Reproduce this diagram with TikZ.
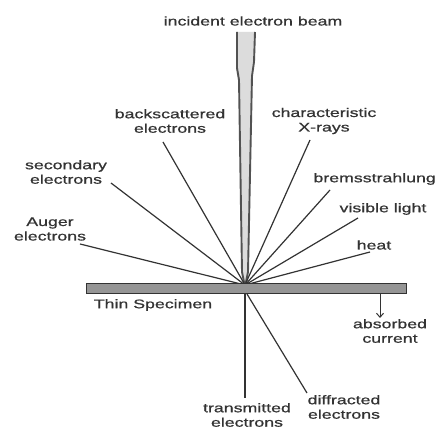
\documentclass[tikz,border=0pt]{standalone}
\usepackage{fontspec}
\setmainfont[FakeStretch=1.42,FakeBold=0.8]{Liberation Sans}
\usetikzlibrary{arrows.meta}
\definecolor{ink}{HTML}{333333}
\definecolor{beamfill}{HTML}{DCDCDC}
\definecolor{barfill}{HTML}{959595}
\begin{document}
\begin{tikzpicture}[x=1pt,y=-1pt,
  lbl/.style={text=ink,font=\fontsize{12.5}{14.5}\selectfont,align=center,inner sep=0pt},
  ray/.style={draw=ink,line width=1.2pt},
  beamedge/.style={draw=ink!85,line width=1.9pt},
]
\useasboundingbox[fill=white] (0,0) rectangle (437,430);

% incident beam
\fill[beamfill] (237,32) -- (237,68) -- (239,80) -- (242,272) -- (245,287) -- (248,272) -- (252,76) -- (254,62) -- (255,32) -- cycle;
\draw[beamedge] (237,32) -- (237,68) -- (239,80) -- (242,272) -- (245,287);
\draw[beamedge] (255,32) -- (254,62) -- (252,76) -- (248,272) -- (245,287);
\node[lbl] (incident) at (253,21) {incident electron beam};

\coordinate (hit) at (245,285);
\coordinate (exit) at (245,294);

% emitted signals
\node[lbl] (bse) at (170,121) {backscattered\\electrons};
\node[lbl] (xray) at (324,121) {characteristic\\X-rays};
\node[lbl] (se) at (66,172) {secondary\\electrons};
\node[lbl] (auger) at (50,229) {Auger\\electrons};
\node[lbl,anchor=east] (brems) at (436,179) {bremsstrahlung};
\node[lbl] (vis) at (383,209) {visible light};
\node[lbl] (heat) at (374,245) {heat};

\coordinate (bseE) at (163,142);
\coordinate (xrayE) at (310,140);
\coordinate (seE) at (111,183);
\coordinate (augerE) at (80,244);
\coordinate (bremsE) at (330,190);
\coordinate (visE) at (358,218);
\coordinate (heatE) at (370,252);

\foreach \e in {bseE,xrayE,seE,augerE,bremsE,visE,heatE}
  \draw[ray] (hit) -- (\e);

% specimen
\node[draw=ink,line width=1pt,fill=barfill,minimum width=320pt,minimum height=10pt,inner sep=0pt] (spec) at (246,289) {};
\node[lbl] (thin) at (153,305) {Thin Specimen};

% transmitted / diffracted
\node[lbl] (trans) at (247,415) {transmitted\\electrons};
\node[lbl] (diff) at (344,407) {diffracted\\electrons};
\coordinate (transE) at (245,398);
\coordinate (diffE) at (307,393);
\draw[ray] (exit) -- (transE);
\draw[ray] (247,294) -- (diffE);

% absorbed current
\node[lbl] (abs) at (390,331) {absorbed\\current};
\coordinate (absS) at (380,294);
\coordinate (absE) at (380,318);
\draw[ink,line width=1pt,-{Straight Barb[length=4pt,width=7pt]}] (absS) -- (absE);
\end{tikzpicture}
\end{document}
